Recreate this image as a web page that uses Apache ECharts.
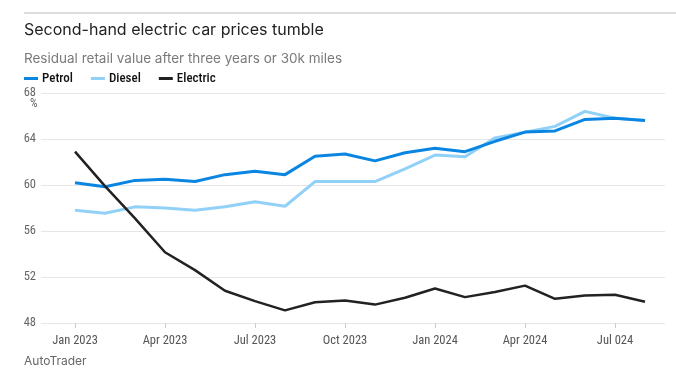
<!DOCTYPE html>
<html>
<head>
<meta charset="utf-8">
<script src="https://cdn.jsdelivr.net/npm/echarts@6/dist/echarts.min.js"></script>
<style>
  html, body { margin: 0; padding: 0; background: #fff; }
  #chart { width: 676px; height: 376px; }
</style>
</head>
<body>
<div id="chart"></div>
<script>
// months from Jan 2023 to Aug 2024 (index 0..19)
const months = ['Jan 2023', 'Feb 2023', 'Mar 2023', 'Apr 2023', 'May 2023', 'Jun 2023',
  'Jul 2023', 'Aug 2023', 'Sep 2023', 'Oct 2023', 'Nov 2023', 'Dec 2023',
  'Jan 2024', 'Feb 2024', 'Mar 2024', 'Apr 2024', 'May 2024', 'Jun 2024',
  'Jul 2024', 'Aug 2024']

// tick labels as printed on the original (incl. its "Jul 024")
const tickIndex = [0, 3, 6, 9, 12, 15, 18]
const tickLabels = ['Jan 2023', 'Apr 2023', 'Jul 2023', 'Oct 2023', 'Jan 2024', 'Apr 2024', 'Jul 024']

const petrol = [60.2, 59.85, 60.4, 60.5, 60.3, 60.9, 61.2, 60.9, 62.5, 62.7,
  62.1, 62.8, 63.2, 62.9, 63.8, 64.6, 64.7, 65.7, 65.8, 65.6]
const diesel = [57.8, 57.55, 58.1, 58.0, 57.8, 58.1, 58.55, 58.15, 60.3, 60.3,
  60.3, 61.4, 62.6, 62.45, 64.1, 64.6, 65.1, 66.4, 65.8, 65.6]
const electric = [62.9, 59.9, 57.1, 54.15, 52.6, 50.8, 49.9, 49.1, 49.8, 49.95,
  49.6, 50.2, 51.0, 50.25, 50.7, 51.25, 50.1, 50.4, 50.45, 49.85]

const axisFont = "'Liberation Sans Narrow', 'Roboto Condensed', 'Roboto', sans-serif"

const chart = echarts.init(document.getElementById('chart'))

const toPairs = arr => arr.map((v, i) => [i, v])

const option = {
  animation: false,
  backgroundColor: '#fff',
  title: [
    {
      text: 'Second-hand electric car prices tumble',
      left: 19,
      top: 17,
      textStyle: { fontFamily: 'Inter, sans-serif', fontSize: 16, fontWeight: 'normal', color: '#222' }
    },
    {
      text: 'Residual retail value after three years or 30k miles',
      left: 19,
      top: 47,
      textStyle: { fontFamily: 'Inter, sans-serif', fontSize: 13.5, fontWeight: 'normal', color: '#7a7a7a' }
    }
  ],
  graphic: [
    {
      type: 'line',
      shape: { x1: 24, y1: 13, x2: 676, y2: 13 },
      style: { stroke: '#bbb', lineWidth: 1 }
    },
    {
      type: 'text',
      left: 30,
      top: 98,
      style: { text: '%', fill: '#666', font: '12px ' + axisFont }
    },
    {
      type: 'text',
      left: 24,
      top: 355,
      style: { text: 'AutoTrader', fill: '#666', font: '12px Inter, sans-serif' }
    }
  ],
  legend: {
    data: ['Petrol', 'Diesel', 'Electric'],
    left: 19,
    top: 67,
    icon: 'rect',
    itemWidth: 14,
    itemHeight: 3,
    itemGap: 18,
    textStyle: { fontFamily: axisFont, fontSize: 13, fontWeight: 500, color: '#111', padding: [0, 0, 0, -1] }
  },
  grid: {
    left: 41,
    right: 11,
    top: 93,
    bottom: 53
  },
  xAxis: {
    type: 'value',
    min: (41 - 75) / 30,
    max: (665 - 75) / 30,
    axisLine: { show: false },
    splitLine: { show: false },
    axisTick: {
      show: true,
      customValues: tickIndex,
      length: 5,
      lineStyle: { color: '#ccc' }
    },
    axisLabel: {
      customValues: tickIndex,
      formatter: v => tickLabels[tickIndex.indexOf(Math.round(v))] || '',
      fontFamily: axisFont,
      fontSize: 12.5,
      color: '#555',
      margin: 11
    }
  },
  yAxis: {
    type: 'value',
    min: 48,
    max: 68,
    interval: 4,
    axisLine: { show: false },
    axisTick: { show: false },
    splitLine: { lineStyle: { color: '#e6e6e6', width: 1 } },
    axisLabel: {
      fontFamily: axisFont,
      fontSize: 12.5,
      color: '#666',
      margin: 5
    }
  },
  series: [
    {
      name: 'Diesel',
      type: 'line',
      data: toPairs(diesel),
      showSymbol: false,
      color: '#91d1f7',
      lineStyle: { width: 3, color: '#91d1f7' }
    },
    {
      name: 'Petrol',
      type: 'line',
      data: toPairs(petrol),
      showSymbol: false,
      color: '#0a86e2',
      lineStyle: { width: 3, color: '#0a86e2' }
    },
    {
      name: 'Electric',
      type: 'line',
      data: toPairs(electric),
      showSymbol: false,
      color: '#222',
      lineStyle: { width: 2.5, color: '#222' }
    }
  ]
}

chart.setOption(option)
</script>
</body>
</html>
